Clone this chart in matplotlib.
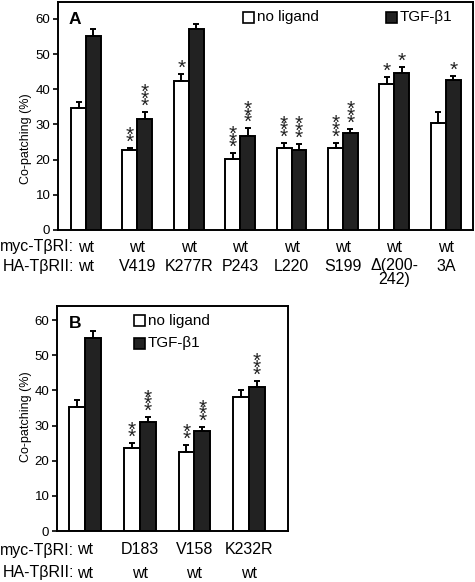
import matplotlib
matplotlib.use("Agg")
import matplotlib.pyplot as plt
from matplotlib.patches import Rectangle
from matplotlib.transforms import blended_transform_factory
import numpy as np

plt.rcParams['font.family'] = ['Liberation Sans', 'DejaVu Sans']

# panel A data
a_ha = ['wt', 'V419', 'K277R', 'P243', 'L220', 'S199', 'Δ(200-\n242)', '3A']
a_myc = ['wt'] * 8
a_none = [34.8, 22.6, 42.3, 20.2, 23.2, 23.4, 41.5, 30.5]
a_none_err = [1.6, 0.8, 2.1, 1.6, 1.5, 1.4, 2.1, 2.9]
a_tgf = [55.0, 31.6, 57.1, 26.8, 22.6, 27.7, 44.5, 42.7]
a_tgf_err = [2.1, 2.0, 1.5, 2.1, 1.9, 1.1, 1.9, 1.2]
a_none_sig = [0, 2, 1, 3, 3, 3, 1, 0]
a_tgf_sig = [0, 3, 0, 3, 3, 3, 1, 1]

# panel B data
b_myc = ['wt', 'D183', 'V158', 'K232R']
b_ha = ['wt', 'wt', 'wt', 'wt']
b_none = [35.4, 23.7, 22.6, 38.2]
b_none_err = [1.8, 1.4, 1.9, 2.0]
b_tgf = [55.0, 31.1, 28.4, 41.0]
b_tgf_err = [2.0, 1.3, 1.2, 1.7]
b_none_sig = [0, 2, 2, 0]
b_tgf_sig = [0, 3, 3, 3]

W, H = 475, 582
fig = plt.figure(figsize=(W / 100, H / 100), dpi=100)


def fx(px):
    return px / W


def fy(py):
    return 1 - py / H


dark = '#222222'
w = 0.29


def panel(rect, xlim, ylim, none, none_err, tgf, tgf_err, none_sig, tgf_sig):
    ax = fig.add_axes(rect)
    x = np.arange(len(none))
    ekw = dict(elinewidth=1.4, capthick=1.4, ecolor='black')
    ax.bar(x - w / 2, none, w, color='white', edgecolor='black', lw=1.4,
           yerr=[np.zeros(len(x)), none_err], capsize=2.5, error_kw=ekw)
    ax.bar(x + w / 2, tgf, w, color=dark, edgecolor='black', lw=1.4,
           yerr=[np.zeros(len(x)), tgf_err], capsize=2.5, error_kw=ekw)
    for xs, vals, errs, sig in [(x - w / 2, none, none_err, none_sig),
                                (x + w / 2, tgf, tgf_err, tgf_sig)]:
        for xi, v, e, n in zip(xs, vals, errs, sig):
            for k in range(n):
                ax.annotate('*', xy=(xi, v + e), xytext=(0, 0 + 6.8 * k),
                            textcoords='offset pixels', ha='center',
                            va='baseline', fontsize=15, color=dark)
    ax.set_xlim(*xlim)
    ax.set_ylim(*ylim)
    ax.set_xticks([])
    ax.set_yticks(range(0, 61, 10))
    ax.tick_params(axis='y', direction='out', length=3.5, width=1.2,
                   labelsize=9.5, pad=2)
    for s in ax.spines.values():
        s.set_linewidth(1.4)
    return ax


axA = panel([fx(58), fy(230), fx(473) - fx(58), (230 - 2) / H],
            (-0.545, 7.53), (0, 64.8), a_none, a_none_err, a_tgf, a_tgf_err,
            a_none_sig, a_tgf_sig)
axB = panel([fx(57), fy(531), fx(288) - fx(57), (531 - 306) / H],
            (-0.51, 3.71), (0, 64.0), b_none, b_none_err, b_tgf, b_tgf_err,
            b_none_sig, b_tgf_sig)


def row_labels(ax, name, labels, ypx):
    tr = blended_transform_factory(ax.transData, fig.transFigure)
    fig.text(fx(74), fy(ypx), name, ha='right', va='center', fontsize=11.5)
    for i, lab in enumerate(labels):
        t = ax.text(i, fy(ypx), lab, transform=tr, ha='center', va='center',
                    fontsize=11.5, linespacing=0.95)
        if '\n' in lab:
            t.set_va('top')
            t.set_y(fy(ypx - 9))


row_labels(axA, 'myc-TβRI:', a_myc, 247)
row_labels(axA, 'HA-TβRII:', a_ha, 267)
row_labels(axB, 'myc-TβRI:', b_myc, 550)
row_labels(axB, 'HA-TβRII:', b_ha, 573)

# y labels
fig.text(fx(26), fy(139), 'Co-patching (%)', rotation=90, ha='center', va='center', fontsize=9)
fig.text(fx(26), fy(417), 'Co-patching (%)', rotation=90, ha='center', va='center', fontsize=9)

# panel letters
fig.text(fx(69), fy(19), 'A', fontsize=12.5, fontweight='bold', va='center')
fig.text(fx(69), fy(324), 'B', fontsize=12.5, fontweight='bold', va='center')


# legends
def key(x0, y0, face, label):
    fig.add_artist(Rectangle((fx(x0), fy(y0 + 11)), 11 / W, 11 / H, transform=fig.transFigure,
                             facecolor=face, edgecolor='black', lw=1.2))
    fig.text(fx(x0 + 14), fy(y0 + 5.5), label, ha='left', va='center', fontsize=11)


key(243, 12, 'white', 'no ligand')
key(386, 12, dark, 'TGF-β1')
key(134, 315, 'white', 'no ligand')
key(134, 338, dark, 'TGF-β1')

fig.savefig('out.png', dpi=100)
